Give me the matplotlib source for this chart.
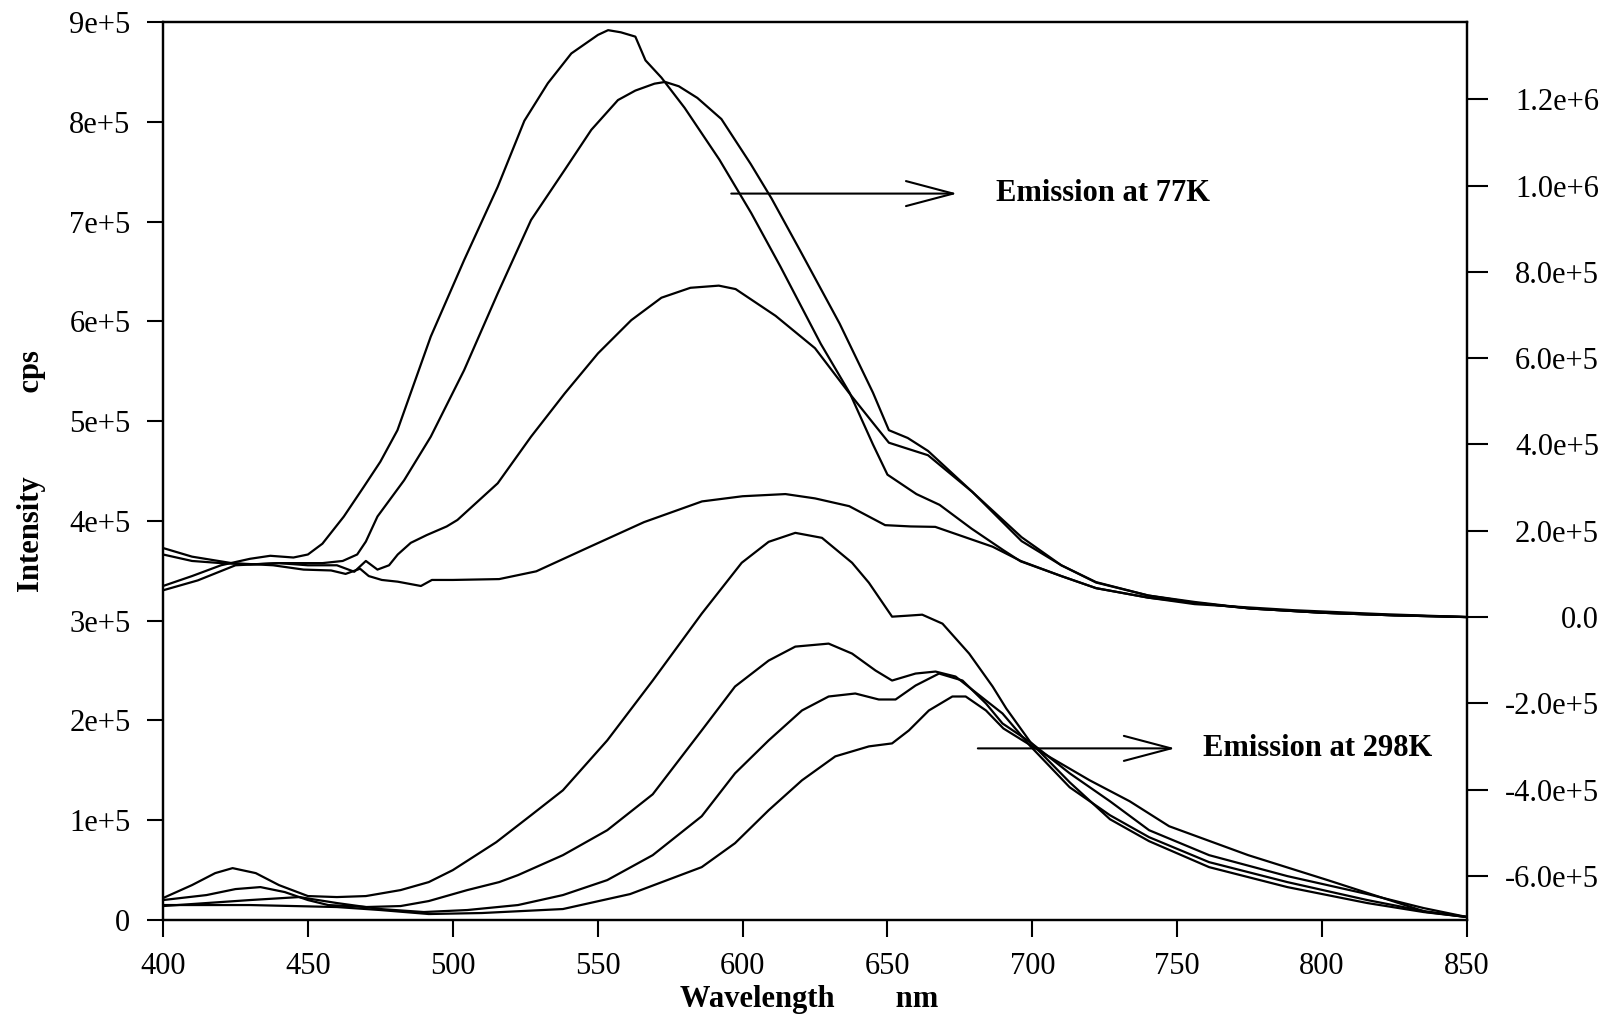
import matplotlib
matplotlib.use("Agg")
import matplotlib.pyplot as plt
import numpy as np

plt.rcParams['font.family'] = ['Liberation Serif', 'DejaVu Serif']

# ---- 77K emission (right axis), values in units of 1e5 cps ----
wl_77a = [400, 410, 420, 430, 437, 445, 450, 455, 462.4, 469.3, 475, 480.9, 492.4, 503.9, 515.5, 524.7, 532.8, 540.9, 550.1, 553.6,
          558, 563, 566.5, 572, 580, 592, 603, 613, 627, 637, 645, 650, 660, 668, 679, 690, 696, 710, 722, 740, 756,
          775, 800, 825, 850]
i_77a = [0.72, 0.95, 1.2, 1.35, 1.42, 1.38, 1.45, 1.7, 2.33, 3.02, 3.6, 4.33, 6.5, 8.27, 9.97, 11.5, 12.37, 13.06, 13.49, 13.6,
         13.55, 13.45, 12.9, 12.5, 11.8, 10.6, 9.36, 8.13, 6.33, 5.19, 4.0, 3.3, 2.85, 2.6, 2.05, 1.55, 1.29, 0.95, 0.67, 0.45, 0.33,
         0.2, 0.1, 0.04, 0.0]

wl_77b = [400, 412, 425, 440, 455, 462, 467, 470, 474, 483.2, 492.4, 503.9, 515.5, 527, 538.6, 547.8, 557, 563, 569.6, 573.3,
          578, 584.4, 592.7, 602.8, 610, 619.8, 633.5, 645, 650.5, 657, 664, 679.3, 696.3, 710, 722, 740, 756, 775, 800, 825,
          850]
i_77b = [0.62, 0.85, 1.2, 1.25, 1.25, 1.3, 1.45, 1.75, 2.33, 3.17, 4.18, 5.72, 7.5, 9.2, 10.36, 11.29, 11.98, 12.2, 12.36, 12.4,
         12.3, 12.03, 11.54, 10.5, 9.7, 8.5, 6.8, 5.2, 4.33, 4.15, 3.85, 2.9, 1.76, 1.2, 0.81, 0.5, 0.35, 0.2, 0.1, 0.04,
         0.0]

wl_77c = [400, 410, 420, 430, 440, 450, 460, 466, 470, 474, 478, 481, 485.5, 491, 497.9, 501.6, 515.5, 527, 538.6, 550.1,
          561.6, 572, 582, 591.8, 597.6, 611.4, 625, 636.8, 645, 650.5, 657, 664, 679.3, 696.3, 710, 722, 740, 756, 775, 800,
          825, 850]
i_77c = [1.45, 1.3, 1.25, 1.22, 1.25, 1.2, 1.2, 1.05, 1.3, 1.1, 1.2, 1.45, 1.72, 1.9, 2.1, 2.25, 3.1, 4.18, 5.18, 6.11,
         6.88, 7.4, 7.63, 7.68, 7.6, 6.98, 6.23, 5.19, 4.5, 4.04, 3.9, 3.75, 2.9, 1.85, 1.2, 0.8, 0.5, 0.33, 0.2, 0.1,
         0.04, 0.0]

wl_77d = [400, 410, 423.7, 438, 448.5, 458, 463, 468, 471, 475.5, 481, 489, 492.8, 500, 516, 528.8, 547, 566, 586, 600,
          614.8, 625, 636.8, 649.2, 658, 666.5, 686.3, 696, 710, 722, 740, 756, 790, 820, 850]
i_77d = [1.6, 1.4, 1.25, 1.2, 1.1, 1.08, 1.0, 1.12, 0.95, 0.86, 0.82, 0.72, 0.86, 0.86, 0.88, 1.06, 1.62, 2.2, 2.68, 2.8,
         2.85, 2.75, 2.57, 2.13, 2.1, 2.09, 1.63, 1.3, 0.95, 0.67, 0.45, 0.3, 0.16, 0.07, 0.0]

# ---- 298K emission (left axis), values in units of 1e5 cps ----
wl_298a = [400, 410, 418, 424, 432, 440, 450, 460, 470, 482, 491.7, 500, 515, 527, 538, 553.3, 569, 585.9, 599.7, 609,
           618.2, 627.4, 637.8, 643.6, 651.6, 657, 662, 669, 678.2, 686.3, 691, 699.4, 712.9, 726.8, 740.3, 761, 788, 815.6,
           835, 850]
i_298a = [0.22, 0.35, 0.47, 0.52, 0.47, 0.35, 0.24, 0.23, 0.24, 0.3, 0.38, 0.5, 0.78, 1.05, 1.3, 1.8, 2.4, 3.07, 3.58, 3.79,
          3.88, 3.83, 3.58, 3.38, 3.04, 3.05, 3.06, 2.97, 2.67, 2.34, 2.12, 1.78, 1.38, 1.01, 0.79, 0.53, 0.33, 0.17,
          0.08, 0.03]

wl_298b = [400, 415, 425, 433.6, 442, 450, 457, 470, 482, 491.7, 505, 516, 522.5, 538, 553.3, 569, 585.9, 597.4, 609, 618.2,
           629.7, 637.8, 645.9, 651.6, 659.7, 666.6, 673.5, 684, 689.7, 699.4, 712.9, 726.8, 740.3, 761, 788, 815.6, 835, 850]
i_298b = [0.2, 0.25, 0.31, 0.33, 0.28, 0.2, 0.15, 0.13, 0.14, 0.19, 0.3, 0.38, 0.45, 0.65, 0.9, 1.26, 1.9, 2.34, 2.6, 2.74,
          2.77, 2.67, 2.5, 2.4, 2.47, 2.49, 2.44, 2.2, 2.07, 1.74, 1.33, 1.05, 0.83, 0.58, 0.38, 0.2, 0.09, 0.03]

wl_298c = [400, 415, 430, 447, 460, 475, 490, 505, 522.5, 538, 553.3, 569, 585.9, 597.4, 609, 620.5, 629.7, 638.9, 647, 652.8,
           659.7, 667.8, 675.9, 684, 689.7, 699.4, 712.9, 726.8, 740.3, 761, 788, 815.6, 835, 850]
i_298c = [0.14, 0.17, 0.2, 0.23, 0.17, 0.11, 0.08, 0.1, 0.15, 0.25, 0.4, 0.65, 1.04, 1.47, 1.8, 2.1, 2.24, 2.27, 2.21, 2.21,
          2.35, 2.47, 2.4, 2.17, 1.97, 1.78, 1.47, 1.19, 0.9, 0.65, 0.44, 0.26, 0.12, 0.03]

wl_298d = [400, 430, 460, 475, 491.7, 510, 538, 561.2, 585.9, 597.4, 609, 620.5, 632, 643.6, 651.6, 657.4, 664.3, 672.4, 677, 684,
           690, 700, 706.2, 719.8, 733.6, 747.2, 774.5, 801.9, 836, 850]
i_298d = [0.15, 0.15, 0.13, 0.1, 0.06, 0.07, 0.11, 0.26, 0.53, 0.77, 1.1, 1.4, 1.64, 1.74, 1.77, 1.9, 2.1, 2.24, 2.24, 2.1,
          1.92, 1.74, 1.63, 1.4, 1.19, 0.94, 0.65, 0.4, 0.08, 0.03]

UNIT = 1e5

x_ticks = [400, 450, 500, 550, 600, 650, 700, 750, 800, 850]
left_ticks = [0, 1e5, 2e5, 3e5, 4e5, 5e5, 6e5, 7e5, 8e5, 9e5]
left_labels = ["0", "1e+5", "2e+5", "3e+5", "4e+5", "5e+5", "6e+5", "7e+5", "8e+5", "9e+5"]
right_ticks = [-6e5, -4e5, -2e5, 0, 2e5, 4e5, 6e5, 8e5, 1.0e6, 1.2e6]
right_labels = ["-6.0e+5", "-4.0e+5", "-2.0e+5", "0.0", "2.0e+5", "4.0e+5", "6.0e+5", "8.0e+5", "1.0e+6", "1.2e+6"]

label_77 = "Emission at 77K"
label_298 = "Emission at 298K"

fig = plt.figure(figsize=(16.19, 10.26), dpi=100)
ax = fig.add_axes([0.1007, 0.1033, 0.9061 - 0.1007, 0.9786 - 0.1033])
ax2 = ax.twinx()

lw = 1.6
for wl, iv in [(wl_298a, i_298a), (wl_298b, i_298b), (wl_298c, i_298c), (wl_298d, i_298d)]:
    ax.plot(wl, np.array(iv) * UNIT, color='black', lw=lw)
for wl, iv in [(wl_77a, i_77a), (wl_77b, i_77b), (wl_77c, i_77c), (wl_77d, i_77d)]:
    ax2.plot(wl, np.array(iv) * UNIT, color='black', lw=lw)

ax.set_xlim(400, 850)
ax.set_ylim(0, 9e5)
ax2.set_ylim(-7.02e5, 13.79e5)

ax.set_xticks(x_ticks)
ax.set_xticklabels([str(t) for t in x_ticks])
ax.set_yticks(left_ticks)
ax.set_yticklabels(left_labels)
ax2.set_yticks(right_ticks)
ax2.set_yticklabels(right_labels)

fs = 22
ax.tick_params(axis='x', direction='out', length=12, width=1.5, pad=11, labelsize=fs)
ax.tick_params(axis='y', direction='out', length=11.5, width=1.5, pad=12, labelsize=fs)
ax2.tick_params(axis='y', direction='out', length=15, width=1.5, pad=80, labelsize=fs)
for t in ax2.get_yticklabels():
    t.set_horizontalalignment('right')

for a in (ax, ax2):
    for s in a.spines.values():
        s.set_linewidth(1.6)

ax.set_xlabel("Wavelength        nm", fontsize=fs, fontweight='bold')
ax.xaxis.set_label_coords(0.4954, -0.072)
ax.set_ylabel("Intensity           cps", fontsize=fs, fontweight='bold')
ax.yaxis.set_label_coords(-0.09, 0.5)

arrow_kw = dict(arrowstyle='->,head_length=1.7,head_width=0.45', lw=1.5, color='black',
                shrinkA=0, shrinkB=0, mutation_scale=20)
ax.annotate('', xy=(674.1, 7.28e5), xytext=(596.1, 7.28e5), arrowprops=arrow_kw)
ax.text(687.3, 7.28e5, label_77, fontsize=fs, fontweight='bold', ha='left', va='center')
ax.annotate('', xy=(749.3, 1.72e5), xytext=(681.2, 1.72e5), arrowprops=arrow_kw)
ax.text(758.9, 1.72e5, label_298, fontsize=fs, fontweight='bold', ha='left', va='center')

fig.savefig("out.png", dpi=100)
